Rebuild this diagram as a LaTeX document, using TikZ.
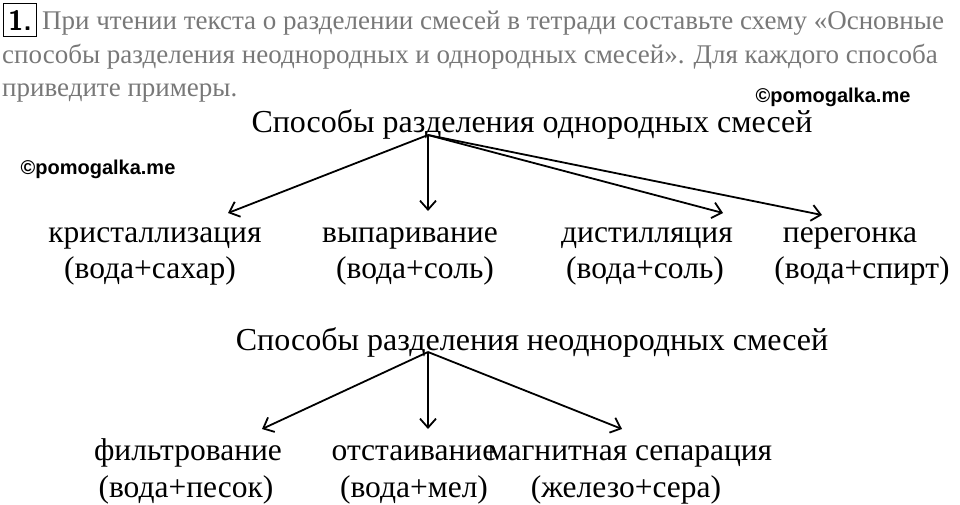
\documentclass[tikz,border=0pt]{standalone}
\usepackage{fontspec}
\setmainfont{Liberation Serif}
\newfontfamily\wmfont{Liberation Sans}
\usetikzlibrary{arrows.meta, positioning}
\definecolor{headgray}{RGB}{120,120,120}
\begin{document}
\begin{tikzpicture}[
        x=1pt, y=-1pt,
        item/.style={inner sep=0pt, anchor=base, font=\fontsize{31.5}{34}\selectfont},
        title/.style={inner sep=0pt, anchor=base, font=\fontsize{32}{35}\selectfont},
        head/.style={inner sep=0pt, anchor=base west, text=headgray, font=\fontsize{27}{30}\selectfont},
        wmark/.style={inner sep=0pt, font=\wmfont\bfseries\fontsize{20}{22}\selectfont},
        arr/.style={-{Straight Barb[length=9pt,width=16pt]}, line width=1.8pt}
    ]
    \useasboundingbox (0,0) rectangle (960,504);

    % Task header
    \node[draw, line width=1.5pt, inner sep=1pt, minimum size=33pt,
          font=\sffamily\bfseries\fontsize{28}{30}\selectfont] (num) at (20,20) {1.};
    \node[head] (h1) at (42,29) {При чтении текста о разделении смесей в тетради составьте схему «Основные};
    \node[head] (h2) at (2,63) {способы разделения неоднородных и однородных смесей». Для каждого способа};
    \node[head] (h3) at (2,96) {приведите примеры.};

    % Watermarks
    \node[wmark] (wm1) at (833,97) {©pomogalka.me};
    \node[wmark] (wm2) at (98,169) {©pomogalka.me};

    % Homogeneous mixtures
    \node[title] (hom) at (532,132) {Способы разделения однородных смесей};
    \coordinate (top1) at (428,135);
    \node[item] (m1) at (155,242) {кристаллизация};
    \node[item] (e1) at (150,278) {(вода+сахар)};
    \node[item] (m2) at (410,242) {выпаривание};
    \node[item] (e2) at (415,278) {(вода+соль)};
    \node[item] (m3) at (647,242) {дистилляция};
    \node[item] (e3) at (645,278) {(вода+соль)};
    \node[item] (m4) at (850,242) {перегонка};
    \node[item] (e4) at (862,278) {(вода+спирт)};
    \coordinate (t1) at (228,213);
    \coordinate (t2) at (428,211);
    \coordinate (t3) at (723,213);
    \coordinate (t4) at (822,215);
    \foreach \t in {t1,t2,t3,t4}
        \draw[arr] (top1) -- (\t);

    % Heterogeneous mixtures
    \node[title] (het) at (532,350) {Способы разделения неоднородных смесей};
    \coordinate (top2) at (428,352);
    \node[item] (n1) at (188,460) {фильтрование};
    \node[item] (f1) at (186,497) {(вода+песок)};
    \node[item] (n2) at (414,460) {отстаивание};
    \node[item] (f2) at (414,497) {(вода+мел)};
    \node[item] (n3) at (630,460) {магнитная сепарация};
    \node[item] (f3) at (626,497) {(железо+сера)};
    \coordinate (s1) at (262,429);
    \coordinate (s2) at (428,429);
    \coordinate (s3) at (622,429);
    \foreach \s in {s1,s2,s3}
        \draw[arr] (top2) -- (\s);
\end{tikzpicture}
\end{document}
